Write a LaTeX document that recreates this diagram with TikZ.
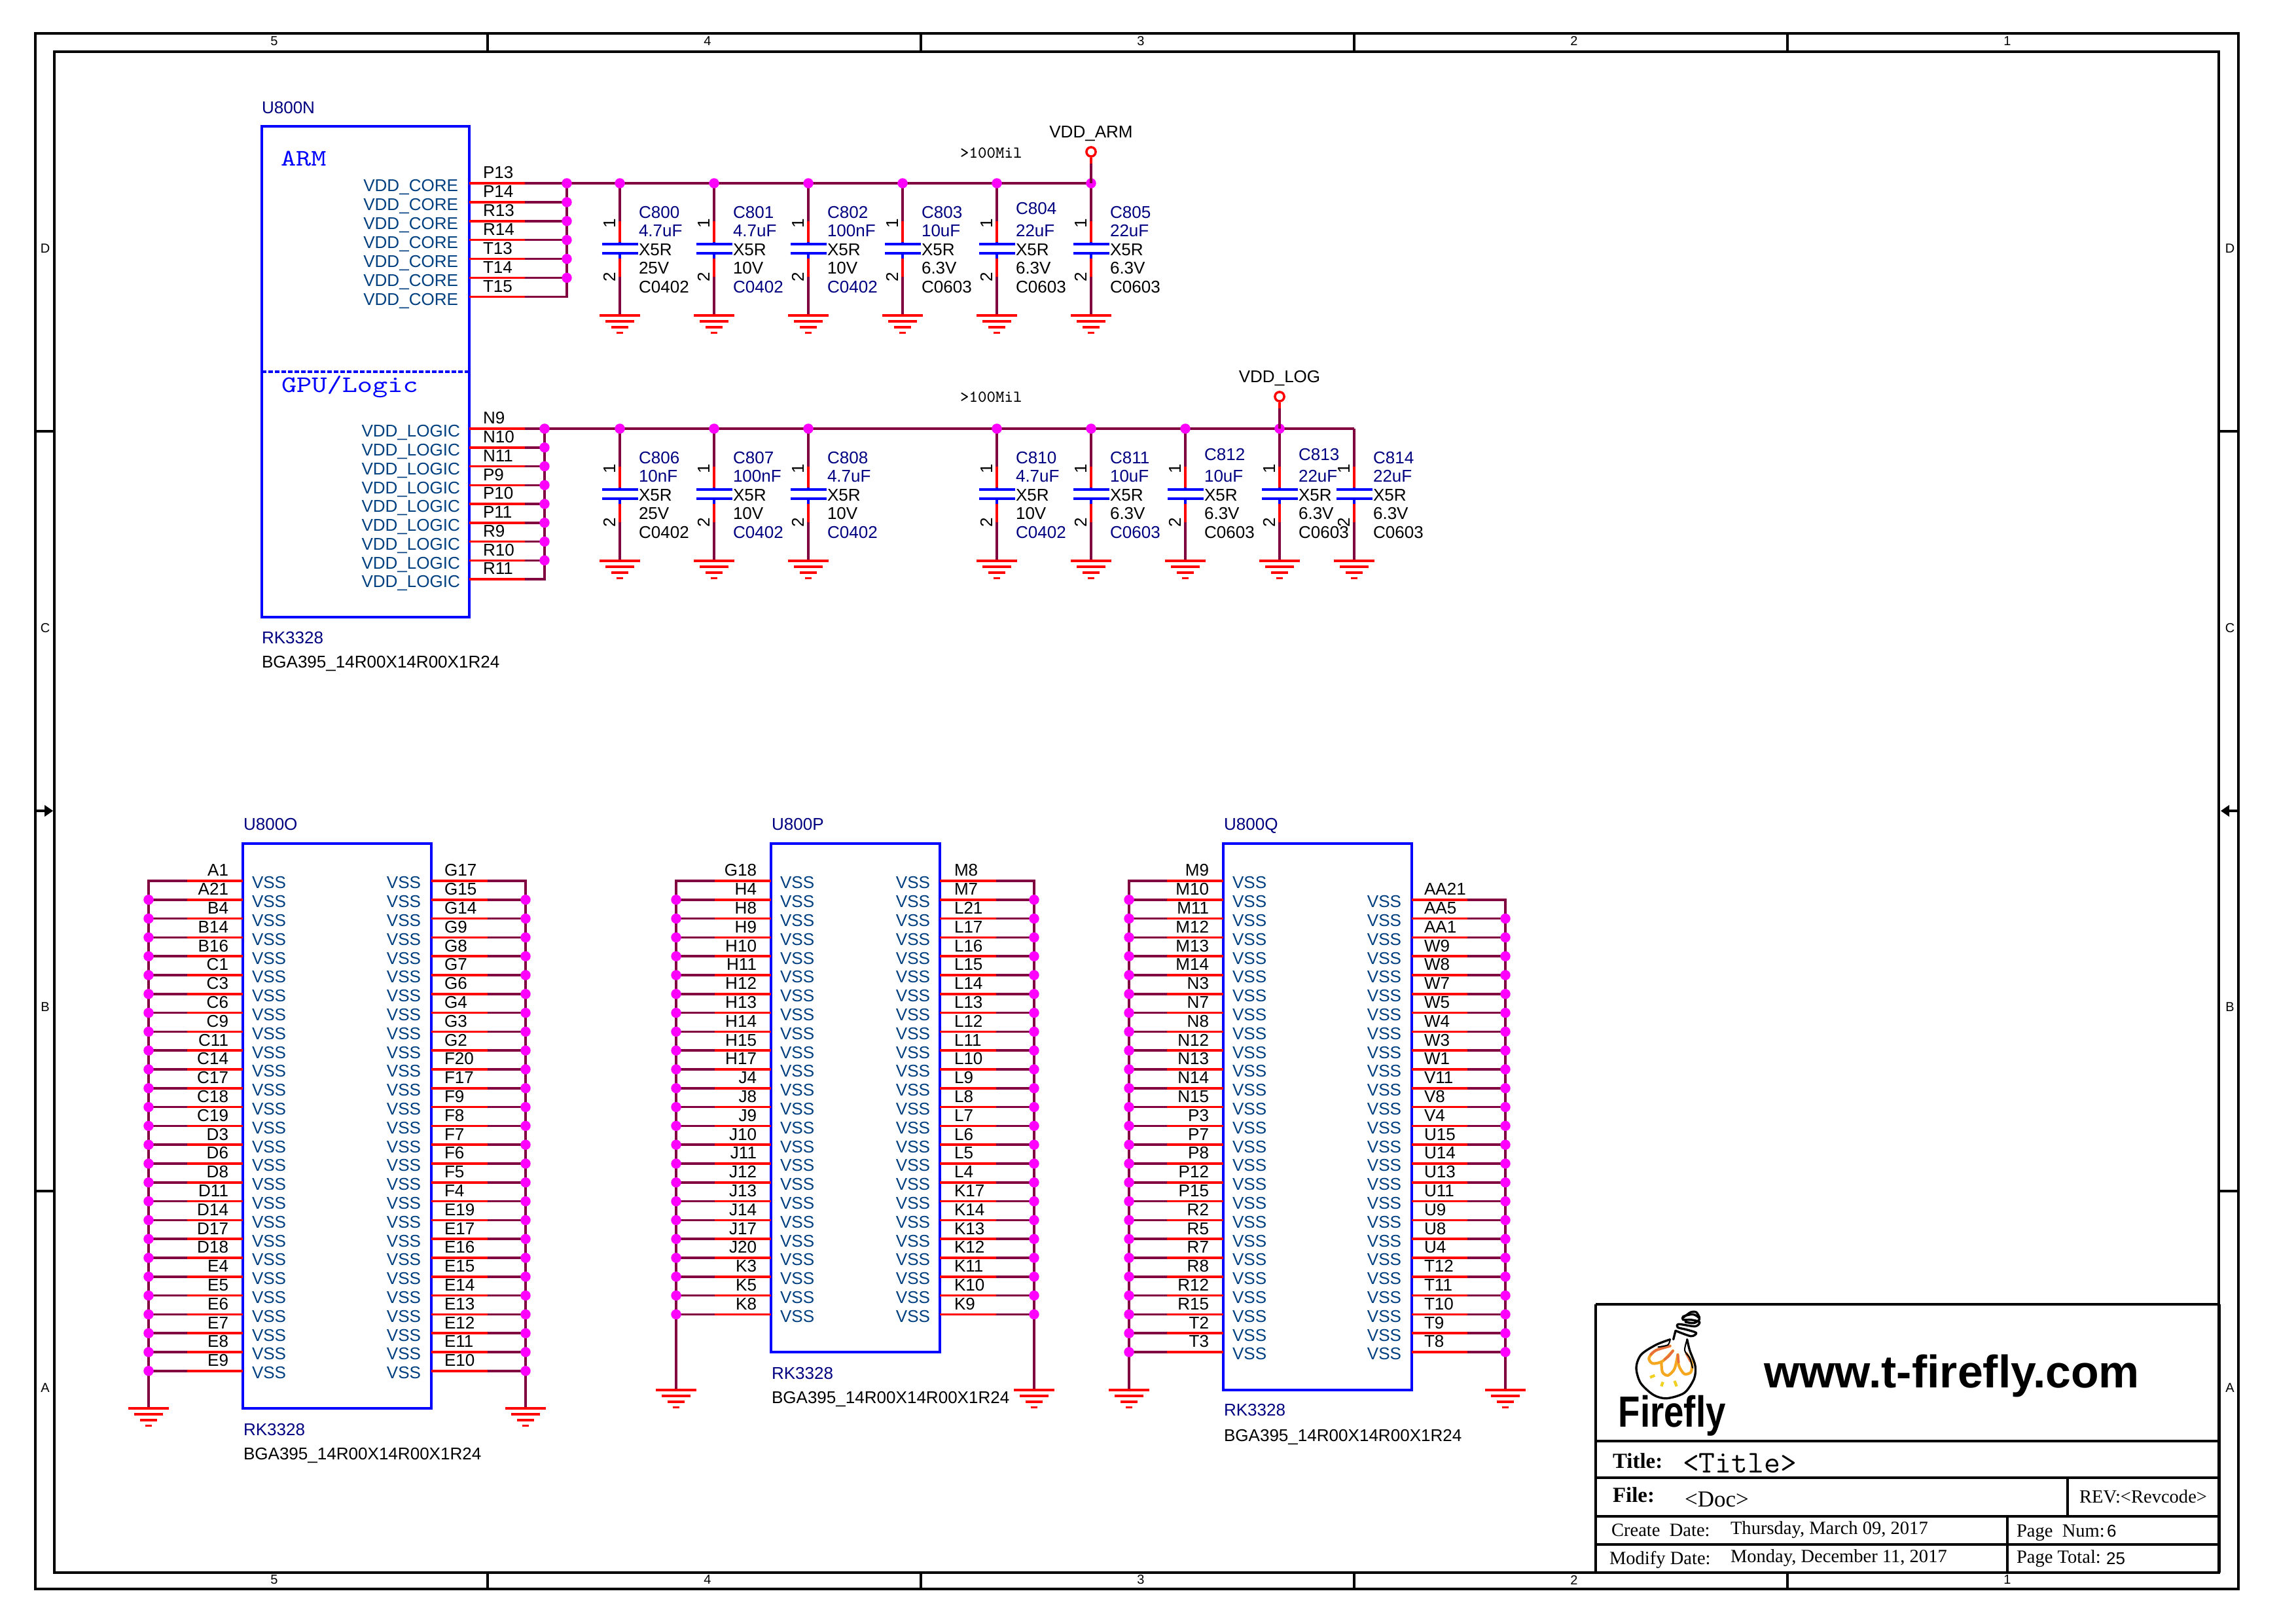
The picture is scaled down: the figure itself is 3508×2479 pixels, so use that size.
\documentclass[tikz,border=0pt]{standalone}
\usepackage{graphicx}
\usepackage{fontspec}
\setmainfont{Liberation Sans}
\newfontfamily\tbserif{Liberation Serif}
\definecolor{wirecol}{HTML}{800040}
\definecolor{refnavy}{HTML}{000080}
\definecolor{pinname}{HTML}{004080}
\definecolor{jmag}{HTML}{FF00FF}
\definecolor{pinred}{HTML}{FF0000}
\definecolor{boxblue}{HTML}{0000FF}
\definecolor{flamehi}{HTML}{E86F3C}
\definecolor{flamelo}{HTML}{F5A81F}
\definecolor{flamedot}{HTML}{F0D020}
\tikzset{
  wirel/.style={draw=wirecol,line width=0.84pt},
  redl/.style={draw=pinred,line width=0.84pt},
  bluel/.style={draw=boxblue,line width=0.84pt},
  plate/.style={draw=boxblue,line width=1pt},
  gndbar/.style={draw=pinred,line width=0.84pt},
  chipbox/.style={draw=boxblue,line width=0.9pt},
  frameo/.style={draw=black,line width=0.75pt},
  framei/.style={draw=black,line width=1.1pt},
  tbline/.style={draw=black,line width=0.84pt},
  junc/.style={circle,fill=jmag,draw=none,minimum size=3.7pt,inner sep=0,outer sep=0},
  txt/.style={inner sep=0,outer sep=0,yshift=-0.2pt,font=\fontsize{6.25}{7}\selectfont},
  rottxt/.style={inner sep=0,outer sep=0,font=\fontsize{6.25}{7}\selectfont,text=black,rotate=90,anchor=base},
  numlab/.style={txt,text=black},
  namelab/.style={txt,text=pinname},
  reflab/.style={txt,text=refnavy,anchor=base west},
  zonelab/.style={inner sep=0,outer sep=0,font=\fontsize{4.8}{6}\selectfont,text=black},
  sertxt/.style={inner sep=0,outer sep=0,yshift=-0.2pt,anchor=base west,font=\tbserif\fontsize{6.85}{8}\selectfont,text=black},
  sertitle/.style={inner sep=0,outer sep=0,yshift=-0.2pt,anchor=base west,font=\tbserif\bfseries\fontsize{7.9}{9}\selectfont,text=black},
  netlab/.style={inner sep=0,outer sep=0,yshift=-0.2pt,anchor=base west,font=\ttfamily\fontsize{6.1}{7}\selectfont,text=black},
  bloklab/.style={inner sep=0,outer sep=0,yshift=-0.2pt,anchor=base west,font=\ttfamily\fontsize{10.6}{12}\selectfont,text=boxblue},
  logoline/.style={draw=black,line width=0.8pt,line cap=round,line join=round},
}
% ground symbol
\newcommand{\mkgnd}[2]{%
  \draw[gndbar] ({#1-31},{#2}) -- ({#1+31},{#2});
  \draw[gndbar] ({#1-22},{#2+9}) -- ({#1+22},{#2+9});
  \draw[gndbar] ({#1-13},{#2+18}) -- ({#1+13},{#2+18});
  \draw[gndbar] ({#1-5},{#2+26.5}) -- ({#1+5},{#2+26.5});
}
% capacitor: id, x, bus y, designator, value, volt, package, package colour, designator dy
\newcommand{\mkcap}[9]{%
  \coordinate (#1t) at (#2,#3);
  \coordinate (#1a) at (#2,{#3+58});
  \coordinate (#1b) at (#2,{#3+90});
  \coordinate (#1p) at (#2,{#3+93});
  \coordinate (#1q) at (#2,{#3+107});
  \coordinate (#1c) at (#2,{#3+115});
  \coordinate (#1d) at (#2,{#3+143});
  \coordinate (#1g) at (#2,{#3+202});
  \draw[wirel] (#1t) -- (#1a);
  \draw[redl] (#1a) -- (#1b);
  \draw[bluel] (#1b) -- (#1p);
  \draw[plate] ({#2-27.5},{#3+93}) -- ({#2+27.5},{#3+93});
  \draw[plate] ({#2-27.5},{#3+107}) -- ({#2+27.5},{#3+107});
  \draw[bluel] (#1q) -- (#1c);
  \draw[redl] (#1c) -- (#1d);
  \draw[wirel] (#1d) -- (#1g);
  \mkgnd{#2}{#3+202}
  \node[rottxt] (#1n1) at ({#2-7},{#3+61}) {1};
  \node[rottxt] (#1n2) at ({#2-7},{#3+143}) {2};
  \node[txt,text=refnavy,anchor=base west] (#1l1) at ({#2+29},{#3+53+#9}) {#4};
  \node[txt,text=refnavy,anchor=base west] (#1l2) at ({#2+29},{#3+81}) {#5};
  \node[txt,text=black,anchor=base west] (#1l3) at ({#2+29},{#3+110}) {X5R};
  \node[txt,text=black,anchor=base west] (#1l4) at ({#2+29},{#3+138}) {#6};
  \node[txt,text=#8,anchor=base west] (#1l5) at ({#2+29},{#3+167}) {#7};
}
% VDD pins on right side of U800N: id, wire x, first y, pitch, name, name right x, last index, list
\newcommand{\vddpins}[8]{%
  \coordinate (#1top) at (#2,#3);
  \coordinate (#1bot) at (#2,{#3+(#7-1)*#4});
  \draw[wirel,line cap=rect] (#1top) -- (#1bot);
  \foreach \n [count=\i] in {#8} {
    \pgfmathsetmacro\yy{#3+(\i-1)*#4}
    \coordinate (#1a\i) at (717,\yy);
    \coordinate (#1b\i) at (802,\yy);
    \coordinate (#1c\i) at (#2,\yy);
    \draw[wirel] (#1b\i) -- (#1c\i);
    \draw[redl] (#1a\i) -- (#1b\i);
    \node[numlab,anchor=base west] (#1n\i) at (738,{\yy-8}) {\n};
    \node[namelab,anchor=base east] (#1v\i) at (#6,{\yy+12}) {#5};
    \ifnum\i<#7 \node[junc] (#1j\i) at (#1c\i) {}; \fi
  }
}
% VSS pins, left side: id, box x, red x, wire x, number right x, VSS left x, ground y, list
\newcommand{\leftpins}[8]{%
  \coordinate (#1top) at (#4,1346);
  \coordinate (#1gnd) at (#4,#7);
  \draw[wirel,line cap=rect] (#1top) -- (#1gnd);
  \foreach \n [count=\i] in {#8} {
    \pgfmathsetmacro\yy{1346+(\i-1)*28.8}
    \coordinate (#1a\i) at (#2,\yy);
    \coordinate (#1b\i) at (#3,\yy);
    \coordinate (#1c\i) at (#4,\yy);
    \draw[wirel] (#1c\i) -- (#1b\i);
    \draw[redl] (#1b\i) -- (#1a\i);
    \node[numlab,anchor=base east] (#1n\i) at (#5,{\yy-8}) {\n};
    \node[namelab,anchor=base west] (#1v\i) at (#6,{\yy+11}) {VSS};
    \ifnum\i>1 \node[junc] (#1j\i) at (#1c\i) {}; \fi
  }
  \mkgnd{#4}{#7}
}
% VSS pins, right side: id, box x, red x, wire x, number left x, VSS right x, ground y, first y, list
\newcommand{\rightpins}[9]{%
  \coordinate (#1top) at (#4,#8);
  \coordinate (#1gnd) at (#4,#7);
  \draw[wirel,line cap=rect] (#1top) -- (#1gnd);
  \foreach \n [count=\i] in {#9} {
    \pgfmathsetmacro\yy{#8+(\i-1)*28.8}
    \coordinate (#1a\i) at (#2,\yy);
    \coordinate (#1b\i) at (#3,\yy);
    \coordinate (#1c\i) at (#4,\yy);
    \draw[wirel] (#1b\i) -- (#1c\i);
    \draw[redl] (#1a\i) -- (#1b\i);
    \node[numlab,anchor=base west] (#1n\i) at (#5,{\yy-8}) {\n};
    \node[namelab,anchor=base east] (#1v\i) at (#6,{\yy+11}) {VSS};
    \ifnum\i>1 \node[junc] (#1j\i) at (#1c\i) {}; \fi
  }
  \mkgnd{#4}{#7}
}
\begin{document}
\begin{tikzpicture}[x=0.24pt,y=-0.24pt]
\useasboundingbox (0,0) rectangle (3508,2479);
\fill[white] (0,0) rectangle (3508,2479);

% ---------- sheet frame ----------
\draw[frameo] (54,51) rectangle (3420,2428);
\draw[framei] (83,79) rectangle (3390,2403);
\foreach \x in {745,1407,2069,2731} {
  \draw[frameo] (\x,51) -- (\x,79);
  \draw[frameo] (\x,2403) -- (\x,2428);
}
\foreach \y in {659,1820} {
  \draw[frameo] (54,\y) -- (83,\y);
  \draw[frameo] (3390,\y) -- (3420,\y);
}
\draw[frameo] (54,1239) -- (70,1239);
\fill[black] (68,1230) -- (81,1239) -- (68,1248) -- cycle;
\draw[frameo] (3420,1239) -- (3404,1239);
\fill[black] (3406,1230) -- (3393,1239) -- (3406,1248) -- cycle;
\foreach \n/\x in {5/419,4/1081,3/1743,2/2405,1/3067} {
  \node[zonelab] (zt\n) at (\x,63) {\n};
  \node[zonelab] (zb\n) at (\x,2414) {\n};
}
\foreach \n/\y in {D/380,C/960,B/1539,A/2121} {
  \node[zonelab] (zl\n) at (69,\y) {\n};
  \node[zonelab] (zr\n) at (3407,\y) {\n};
}

% ---------- U800N ----------
\node[reflab] (u800n) at (400,173) {U800N};
\draw[chipbox] (400,193) rectangle (717,943);
\draw[draw=boxblue,line width=0.8pt,dash pattern=on 1.7pt off 0.7pt] (400,568) -- (717,568);
\node[bloklab] (armlab) at (429,253) {\scalebox{1}[0.82]{ARM}};
\node[bloklab] (gpulab) at (430,599) {\scalebox{1}[0.82]{GPU/Logic}};
\node[reflab] (u800nv) at (400,983) {RK3328};
\node[numlab,anchor=base west] (u800nf) at (400,1020) {BGA395\_14R00X14R00X1R24};

% bus, row 1
\coordinate (bus1s) at (866,280);
\coordinate (bus1e) at (1667,280);
\draw[wirel] (bus1s) -- (bus1e);
\vddpins{core}{866}{280}{28.9}{VDD\_CORE}{700}{7}{P13,P14,R13,R14,T13,T14,T15}
\mkcap{ca}{947}{280}{C800}{4.7uF}{25V}{C0402}{black}{0}
\mkcap{cb}{1091}{280}{C801}{4.7uF}{10V}{C0402}{refnavy}{0}
\mkcap{cc}{1235}{280}{C802}{100nF}{10V}{C0402}{refnavy}{0}
\mkcap{cd}{1379}{280}{C803}{10uF}{6.3V}{C0603}{black}{0}
\mkcap{ce}{1523}{280}{C804}{22uF}{6.3V}{C0603}{black}{-6}
\mkcap{cf}{1667}{280}{C805}{22uF}{6.3V}{C0603}{black}{0}
\foreach \c in {cat,cbt,cct,cdt,cet,cft} \node[junc] (j\c) at (\c) {};
\node[netlab] (mila) at (1467,241) {>100Mil};
% VDD_ARM port
\node[circle,draw=pinred,line width=0.84pt,minimum size=3.4pt,inner sep=0] (armport) at (1667,232) {};
\coordinate (armred) at (1667,250);
\draw[redl] (armport) -- (armred);
\draw[wirel] (armred) -- (cft);
\node[inner sep=0,outer sep=0,yshift=-0.2pt,anchor=base,font=\fontsize{6.25}{7}\selectfont] (armnet) at (1667,210) {VDD\_ARM};

% bus, row 2
\coordinate (bus2s) at (832,655);
\coordinate (bus2e) at (2069,655);
\draw[wirel] (bus2s) -- (bus2e);
\vddpins{logic}{832}{655}{28.75}{VDD\_LOGIC}{703}{9}{N9,N10,N11,P9,P10,P11,R9,R10,R11}
\mkcap{cg}{947}{655}{C806}{10nF}{25V}{C0402}{black}{0}
\mkcap{ch}{1091}{655}{C807}{100nF}{10V}{C0402}{refnavy}{0}
\mkcap{ci}{1235}{655}{C808}{4.7uF}{10V}{C0402}{refnavy}{0}
\mkcap{cj}{1523}{655}{C810}{4.7uF}{10V}{C0402}{refnavy}{0}
\mkcap{ck}{1667}{655}{C811}{10uF}{6.3V}{C0603}{refnavy}{0}
\mkcap{cl}{1811}{655}{C812}{10uF}{6.3V}{C0603}{black}{-5}
\mkcap{cm}{1955}{655}{C813}{22uF}{6.3V}{C0603}{black}{-5}
\mkcap{cn}{2069}{655}{C814}{22uF}{6.3V}{C0603}{black}{0}
\draw[wirel,line cap=rect] (bus2e) -- (cnt);
\foreach \c in {cgt,cht,cit,cjt,ckt,clt,cmt} \node[junc] (j\c) at (\c) {};
\node[netlab] (milb) at (1467,614) {>100Mil};
% VDD_LOG port
\node[circle,draw=pinred,line width=0.84pt,minimum size=3.4pt,inner sep=0] (logport) at (1955,606) {};
\coordinate (logred) at (1955,624);
\draw[redl] (logport) -- (logred);
\draw[wirel] (logred) -- (cmt);
\node[inner sep=0,outer sep=0,yshift=-0.2pt,anchor=base,font=\fontsize{6.25}{7}\selectfont] (lognet) at (1955,584) {VDD\_LOG};

% ---------- U800O ----------
\node[reflab] (u800o) at (372,1268) {U800O};
\draw[chipbox] (371,1289) rectangle (659,2152);
\leftpins{oa}{371}{286}{227}{349}{385}{2152}{A1,A21,B4,B14,B16,C1,C3,C6,C9,C11,C14,C17,C18,C19,D3,D6,D8,D11,D14,D17,D18,E4,E5,E6,E7,E8,E9}
\rightpins{ob}{659}{745}{803}{679}{643}{2152}{1346}{G17,G15,G14,G9,G8,G7,G6,G4,G3,G2,F20,F17,F9,F8,F7,F6,F5,F4,E19,E17,E16,E15,E14,E13,E12,E11,E10}
\node[reflab] (u800ov) at (372,2193) {RK3328};
\node[numlab,anchor=base west] (u800of) at (372,2230) {BGA395\_14R00X14R00X1R24};

% ---------- U800P ----------
\node[reflab] (u800p) at (1179,1268) {U800P};
\draw[chipbox] (1178,1289) rectangle (1436,2066);
\leftpins{pa}{1178}{1092}{1033}{1156}{1192}{2124}{G18,H4,H8,H9,H10,H11,H12,H13,H14,H15,H17,J4,J8,J9,J10,J11,J12,J13,J14,J17,J20,K3,K5,K8}
\rightpins{pb}{1436}{1522}{1580}{1458}{1421}{2124}{1346}{M8,M7,L21,L17,L16,L15,L14,L13,L12,L11,L10,L9,L8,L7,L6,L5,L4,K17,K14,K13,K12,K11,K10,K9}
\node[reflab] (u800pv) at (1179,2107) {RK3328};
\node[numlab,anchor=base west] (u800pf) at (1179,2144) {BGA395\_14R00X14R00X1R24};

% ---------- U800Q ----------
\node[reflab] (u800q) at (1870,1268) {U800Q};
\draw[chipbox] (1869,1289) rectangle (2157,2124);
\leftpins{qa}{1869}{1783}{1725}{1847}{1883}{2124}{M9,M10,M11,M12,M13,M14,N3,N7,N8,N12,N13,N14,N15,P3,P7,P8,P12,P15,R2,R5,R7,R8,R12,R15,T2,T3}
\rightpins{qb}{2157}{2242}{2300}{2176}{2141}{2124}{1374.8}{AA21,AA5,AA1,W9,W8,W7,W5,W4,W3,W1,V11,V8,V4,U15,U14,U13,U11,U9,U8,U4,T12,T11,T10,T9,T8}
\node[reflab] (u800qv) at (1870,2163) {RK3328};
\node[numlab,anchor=base west] (u800qf) at (1870,2202) {BGA395\_14R00X14R00X1R24};

% ---------- title block ----------
\draw[tbline] (2438,1993) -- (3390,1993);
\draw[tbline] (2438,1993) -- (2438,2403);
\draw[tbline] (2438,2202) -- (3390,2202);
\draw[tbline] (2438,2258) -- (3390,2258);
\draw[tbline] (2438,2317) -- (3390,2317);
\draw[tbline] (2438,2360) -- (3390,2360);
\draw[tbline] (3159,2258) -- (3159,2317);
\draw[tbline] (3067,2317) -- (3067,2403);
\node[inner sep=0,outer sep=0,yshift=-0.2pt,anchor=base west,font=\bfseries\fontsize{16.75}{18}\selectfont] (www) at (2695,2120) {www.t-firefly.com};
\node[sertitle] (tl) at (2464,2243) {Title:};
\node[inner sep=0,outer sep=0,yshift=-0.2pt,anchor=base west,font=\ttfamily\fontsize{11.6}{13}\selectfont] (tv) at (2571,2250) {<Title>};
\node[sertitle] (fl) at (2464,2295) {File:};
\node[inner sep=0,outer sep=0,yshift=-0.2pt,anchor=base west,font=\tbserif\fontsize{8.4}{10}\selectfont] (fv) at (2574,2302) {<Doc>};
\node[sertxt] (rev) at (3177,2296) {REV:<Revcode>};
\node[sertxt] (cdl) at (2462,2347) {Create\ \ Date:};
\node[sertxt] (cdv) at (2644,2344) {Thursday, March 09, 2017};
\node[sertxt] (mdl) at (2459,2390) {Modify Date:};
\node[sertxt] (mdv) at (2644,2387) {Monday, December 11, 2017};
\node[sertxt] (pnl) at (3081,2348) {Page\ \ Num:};
\node[numlab,anchor=base west] (pnv) at (3219,2348) {6};
\node[sertxt] (ptl) at (3081,2388) {Page Total:};
\node[numlab,anchor=base west] (ptv) at (3218,2390) {25};
\draw[draw=black,line width=1.2pt] (3390,1993) -- (3390,2403);
\draw[draw=black,line width=1.1pt] (2438,2403) -- (3390,2403);

% ---------- logo ----------
\begin{scope}[shift={(2450,2000)},x=0.08pt,y=-0.08pt]
  % flames
  \draw[draw=flamelo,line width=1pt,line cap=round] plot[smooth] coordinates {(305,170) (240,190) (208,225) (225,250) (270,240) (318,192)};
  \draw[draw=flamelo,line width=1pt,line cap=round] plot[smooth] coordinates {(265,245) (270,290) (295,305) (325,275) (340,210)};
  \draw[draw=flamelo,line width=1pt,line cap=round] plot[smooth] coordinates {(340,210) (345,260) (370,298) (400,290) (405,250) (380,205)};
  \draw[draw=flamehi,line width=0.9pt,line cap=round] plot[smooth] coordinates {(305,170) (240,190) (215,210)};
  \draw[draw=flamehi,line width=0.9pt,line cap=round] plot[smooth] coordinates {(318,192) (300,215) (280,232)};
  \draw[draw=flamehi,line width=0.9pt,line cap=round] plot[smooth] coordinates {(340,210) (344,245)};
  \draw[draw=flamehi,line width=0.9pt,line cap=round] plot[smooth] coordinates {(380,205) (398,240)};
  \draw[draw=flamedot,line width=1pt] (213,314) -- (235,305);
  \draw[draw=flamedot,line width=1pt] (265,355) -- (272,335);
  \draw[draw=flamedot,line width=1pt] (325,330) -- (335,355);
  % bulb outline
  \draw[logoline] plot[smooth] coordinates {(305,140) (240,165) (172,210) (150,270) (170,340) (230,395) (290,410) (370,385) (415,320) (420,260) (395,190) (383,140)};
  \draw[logoline,line width=0.5pt] plot[smooth] coordinates {(383,140) (372,190) (395,225) (408,270)};
  \draw[logoline,line width=0.5pt] plot[smooth] coordinates {(305,140) (295,165) (250,175)};
  % neck and coil
  \draw[logoline] (320,140) -- (330,100);
  \draw[logoline] plot[smooth] coordinates {(330,100) (400,125) (425,110) (380,95) (340,85) (345,70) (420,80) (440,60) (400,50) (365,50) (365,35) (410,25) (440,45) (415,65) (375,60)};
  \draw[logoline] plot[smooth] coordinates {(365,40) (400,15) (425,15) (440,40)};
  \node[inner sep=0,outer sep=0,anchor=base west,font=\bfseries\fontsize{16}{18}\selectfont] (fireflylogo) at (68,540) {\scalebox{0.82}[1]{Firefly}};
\end{scope}
\end{tikzpicture}
\end{document}
